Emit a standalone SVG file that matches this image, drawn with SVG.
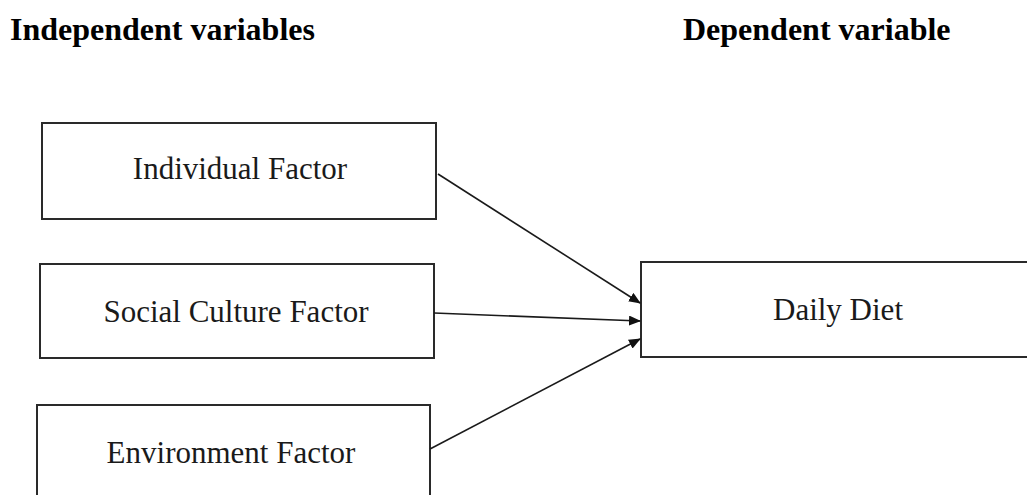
<svg xmlns="http://www.w3.org/2000/svg" width="1027" height="495" viewBox="0 0 1027 495">
<style>
.hdr{font-family:"Liberation Serif","Times New Roman",serif;font-weight:bold;font-size:32px;fill:#000}
.box{fill:#fff;stroke:#2a2a2a;stroke-width:2}
.lbl{font-family:"Liberation Serif","Times New Roman",serif;font-size:31px;fill:#1a1a1a;text-anchor:middle}
.conn{stroke:#1a1a1a;stroke-width:1.6;fill:none;marker-end:url(#ah)}
</style>
<defs>
<marker id="ah" markerWidth="12" markerHeight="10" refX="11" refY="5" orient="auto" markerUnits="userSpaceOnUse">
<path d="M0,0 L12,5 L0,10 Z" fill="#111"/>
</marker>
</defs>
<rect width="1027" height="495" fill="#fff"/>
<text class="hdr" x="10" y="40">Independent variables</text>
<text class="hdr" x="683" y="40">Dependent variable</text>
<g id="node-individual">
<rect class="box" x="42" y="123" width="394" height="96"/>
<text class="lbl" x="240" y="179">Individual Factor</text>
</g>
<g id="node-social">
<rect class="box" x="40" y="264" width="394" height="94"/>
<text class="lbl" x="236" y="322">Social Culture Factor</text>
</g>
<g id="node-environment">
<rect class="box" x="37" y="405" width="393" height="100"/>
<text class="lbl" x="231" y="463">Environment Factor</text>
</g>
<g id="node-diet">
<rect class="box" x="641" y="262" width="394" height="95"/>
<text class="lbl" x="838" y="320">Daily Diet</text>
</g>
<g id="connectors">
<line class="conn" x1="438" y1="174" x2="640" y2="303"/>
<line class="conn" x1="434" y1="313" x2="640" y2="321"/>
<line class="conn" x1="430" y1="449" x2="640" y2="339"/>
</g>
</svg>
